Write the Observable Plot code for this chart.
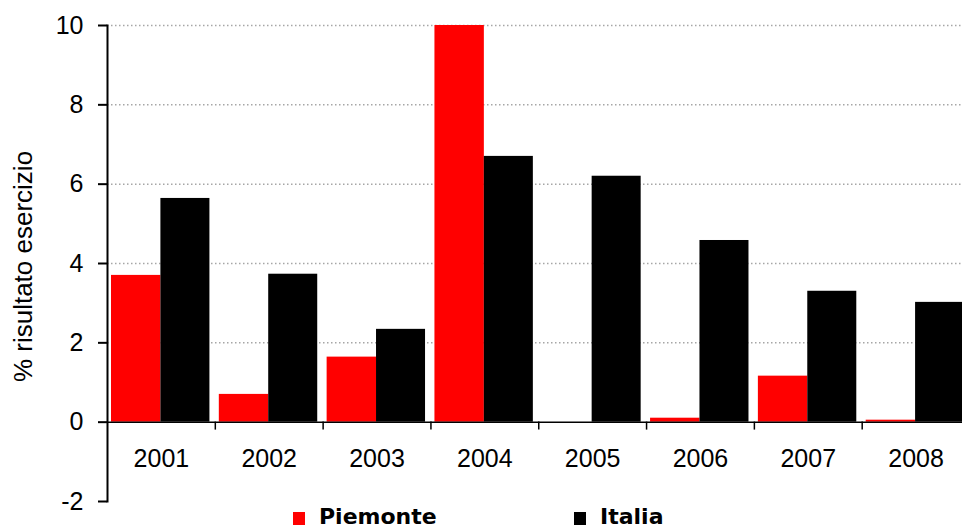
<!DOCTYPE html>
<html>
<head>
<meta charset="utf-8">
<script src="https://cdn.jsdelivr.net/npm/d3@7"></script>
<script src="https://cdn.jsdelivr.net/npm/@observablehq/plot@0.6"></script>
<style>
  body { margin: 0; background: #fff; overflow: hidden; }
  #wrap { position: relative; width: 962px; height: 528px; overflow: hidden; background: #fff; }
  #chart { position: absolute; left: 0; top: 0; }
  .sw { position: absolute; width: 12px; height: 13px; }
  .lt { position: absolute; font-family: "DejaVu Sans", sans-serif; font-weight: bold; font-size: 22px; line-height: 22px; color: #000; white-space: nowrap; }
</style>
</head>
<body>
<div id="wrap">
  <div id="chart"></div>
  <div id="legend"></div>
</div>
<script>
// ---- data ----
const years = [2001, 2002, 2003, 2004, 2005, 2006, 2007, 2008];
const piemonte = [3.70, 0.70, 1.64, 10.0, 0, 0.10, 1.16, 0.05];
const italia = [5.64, 3.73, 2.34, 6.70, 6.20, 4.58, 3.30, 3.02];
const seriesNames = ["Piemonte", "Italia"];
const seriesColors = ["#ff0000", "#000000"];
const yTicks = [-2, 0, 2, 4, 6, 8, 10];
const gridTicks = [2, 4, 6, 8, 10];
const yLabel = "% risultato esercizio";

const rowsP = years.map((y, i) => ({year: y, series: "Piemonte", value: piemonte[i]}));
const rowsI = years.map((y, i) => ({year: y, series: "Italia", value: italia[i]}));
const boundaries = years.slice(1).map(y => y - 0.5);

const chart = Plot.plot({
  width: 962,
  height: 528,
  marginTop: 25,
  marginBottom: 27,
  marginLeft: 107,
  marginRight: 0,
  style: {fontFamily: "'Liberation Sans', Arial, sans-serif", background: "transparent", color: "#000"},
  x: {type: "linear", domain: [years[0] - 0.5, years[years.length - 1] + 0.5], range: [107, 969.5], label: null},
  y: {domain: [yTicks[0], yTicks[yTicks.length - 1]], label: null},
  color: {domain: seriesNames, range: seriesColors},
  marks: [
    Plot.gridY(gridTicks, {stroke: "#a6a6a6", strokeOpacity: 1, strokeWidth: 1.5, strokeDasharray: "1.5,2.5"}),
    Plot.rectY(rowsP, {x1: d => d.year - 0.5, x2: d => d.year + 0.5, y: "value", fill: "series", insetLeft: 4, insetRight: 54.4, clip: true}),
    Plot.rectY(rowsI, {x1: d => d.year - 0.5, x2: d => d.year + 0.5, y: "value", fill: "series", insetLeft: 53.4, insetRight: 5.4, clip: true}),
    Plot.ruleY([0], {stroke: "#000", strokeWidth: 1.5}),
    Plot.frame({anchor: "left", stroke: "#000", strokeWidth: 2}),
    Plot.axisY(yTicks, {tickSize: 9, tickPadding: 15, fontSize: 25, strokeWidth: 2, label: null, tickFormat: d => String(d)}),
    Plot.axisX(boundaries, {anchor: "bottom", tickSize: 8, strokeWidth: 1.5, tickFormat: () => "", dy: -79.4, label: null}),
    Plot.axisX(years, {anchor: "bottom", tickSize: 0, tickPadding: 0, fontSize: 25, dy: -52, tickFormat: d => String(d), label: null}),
    Plot.text([yLabel], {frameAnchor: "left", text: d => d, rotate: -90, dx: -84, dy: 3, fontSize: 26, textAnchor: "middle", lineAnchor: "middle", fill: "#000"})
  ]
});
document.getElementById("chart").appendChild(chart);

// legend (HTML, laid over the bottom strip below the plot frame)
const legend = document.getElementById("legend");
const legendPos = [{sx: 293, tx: 319}, {sx: 574, tx: 600}];
seriesNames.forEach((name, i) => {
  const sw = document.createElement("div");
  sw.className = "sw";
  sw.style.left = legendPos[i].sx + "px";
  sw.style.top = "512px";
  sw.style.background = seriesColors[i];
  legend.appendChild(sw);
  const t = document.createElement("div");
  t.className = "lt";
  t.style.left = legendPos[i].tx + "px";
  t.style.top = "506px";
  t.textContent = name;
  legend.appendChild(t);
});
</script>
</body>
</html>
